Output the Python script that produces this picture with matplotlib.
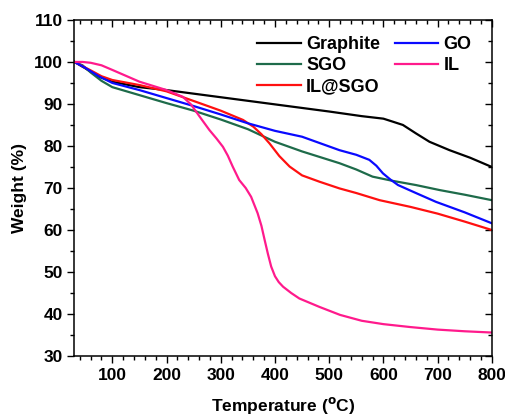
import matplotlib
matplotlib.use('Agg')
import matplotlib.pyplot as plt
import numpy as np

plt.rcParams['font.family'] = 'Liberation Sans'
plt.rcParams['font.weight'] = 'bold'
plt.rcParams['mathtext.default'] = 'bf'

# Graphite
t_gr = [30, 50, 75, 100, 150, 200, 300, 400, 500, 560, 600, 617, 636, 660, 685, 722, 760, 800]
w_gr = [100, 98.5, 96.5, 95.3, 94.0, 93.3, 91.6, 89.9, 88.2, 87.1, 86.5, 85.8, 85.0, 83.0, 81.0, 79.0, 77.2, 75.0]

# GO
t_go = [30, 50, 75, 100, 150, 200, 250, 300, 350, 400, 450, 519, 550, 574, 587, 599, 613, 627, 660, 697, 750, 800]
w_go = [100, 98.6, 96.6, 95.0, 93.3, 91.4, 89.5, 87.5, 85.4, 83.6, 82.2, 79.0, 77.9, 76.7, 75.3, 73.5, 72.0, 70.7, 68.8, 66.7, 64.2, 61.6]

# SGO
t_sgo = [30, 45, 60, 80, 100, 150, 200, 250, 300, 350, 400, 450, 519, 550, 580, 617, 660, 704, 750, 800]
w_sgo = [100, 99.2, 97.5, 95.5, 94.0, 92.1, 90.2, 88.4, 86.3, 84.0, 81.0, 78.7, 75.9, 74.4, 72.7, 71.7, 70.7, 69.5, 68.4, 67.1]

# IL
t_il = [30, 45, 60, 80, 100, 150, 200, 230, 245, 261, 279, 292, 304, 313, 322, 334, 346, 356, 368, 375, 381,
        387, 393, 400, 407, 415, 430, 445, 482, 520, 560, 600, 650, 700, 750, 800]
w_il = [100, 100, 99.8, 99.2, 98.1, 95.3, 93.3, 91.7, 89.9, 87.0, 83.8, 81.8, 79.8, 77.7, 75.1, 71.9, 70.0, 67.9, 64.0, 61.0, 57.6,
        54.3, 51.3, 49.0, 47.6, 46.5, 45.0, 43.7, 41.7, 39.8, 38.4, 37.6, 36.9, 36.3, 35.9, 35.6]

# IL@SGO
t_ils = [30, 45, 60, 80, 100, 150, 200, 261, 300, 341, 360, 375, 390, 408, 427, 450, 482, 519, 550, 593, 650, 700, 750, 800]
w_ils = [100, 99.0, 98.0, 96.6, 95.7, 94.5, 93.0, 90.2, 88.4, 86.2, 84.6, 82.8, 80.6, 77.6, 75.1, 73.0, 71.5, 69.9, 68.8, 67.1, 65.5, 63.9, 62.0, 60.0]

fig = plt.figure(figsize=(5.06, 4.15), dpi=100)
ax = fig.add_axes([0.147, 0.142, 0.825, 0.81])

kw = dict(lw=1.6, solid_joinstyle='round')
ax.plot(t_gr, w_gr, color='black', label='Graphite', **kw)
ax.plot(t_sgo, w_sgo, color='#1e6b4a', label='SGO', **kw)
ax.plot(t_ils, w_ils, color='#ff1010', label='IL@SGO', **kw)
ax.plot(t_go, w_go, color='#0a0aff', label='GO', **kw)
ax.plot(t_il, w_il, color='#ff1a8c', label='IL', **kw)

ax.set_xlim(30, 800)
ax.set_ylim(30, 110)
ax.set_xticks([100, 200, 300, 400, 500, 600, 700, 800])
ax.set_xticks(np.arange(40, 801, 20), minor=True)
ax.set_yticks(np.arange(30, 111, 10))
ax.set_yticks(np.arange(30, 111, 5), minor=True)

ax.tick_params(which='both', direction='out', labelsize=12.5, width=1.0)
ax.tick_params(which='major', length=5)
ax.tick_params(which='minor', length=3)
ax.tick_params(which='both', top=True, right=True)
for s in ax.spines.values():
    s.set_linewidth(1.1)
# top / right ticks point inwards
for t in ax.xaxis.get_major_ticks() + ax.xaxis.get_minor_ticks():
    t.tick2line.set_marker(matplotlib.lines.TICKDOWN)
for t in ax.yaxis.get_major_ticks() + ax.yaxis.get_minor_ticks():
    t.tick2line.set_marker(matplotlib.lines.TICKLEFT)

ax.set_xlabel(r'Temperature ($^{\rm o}$C)', fontsize=12.5, fontweight='bold', labelpad=9)
ax.set_ylabel('Weight (%)', fontsize=12.5, fontweight='bold', labelpad=5)

ax.legend(ncol=2, loc='upper right', frameon=False, fontsize=13, handlelength=2.4,
          columnspacing=0.8, labelspacing=0.22, handletextpad=0.3,
          bbox_to_anchor=(0.99, 1.0))

fig.savefig('out.png', dpi=100)
